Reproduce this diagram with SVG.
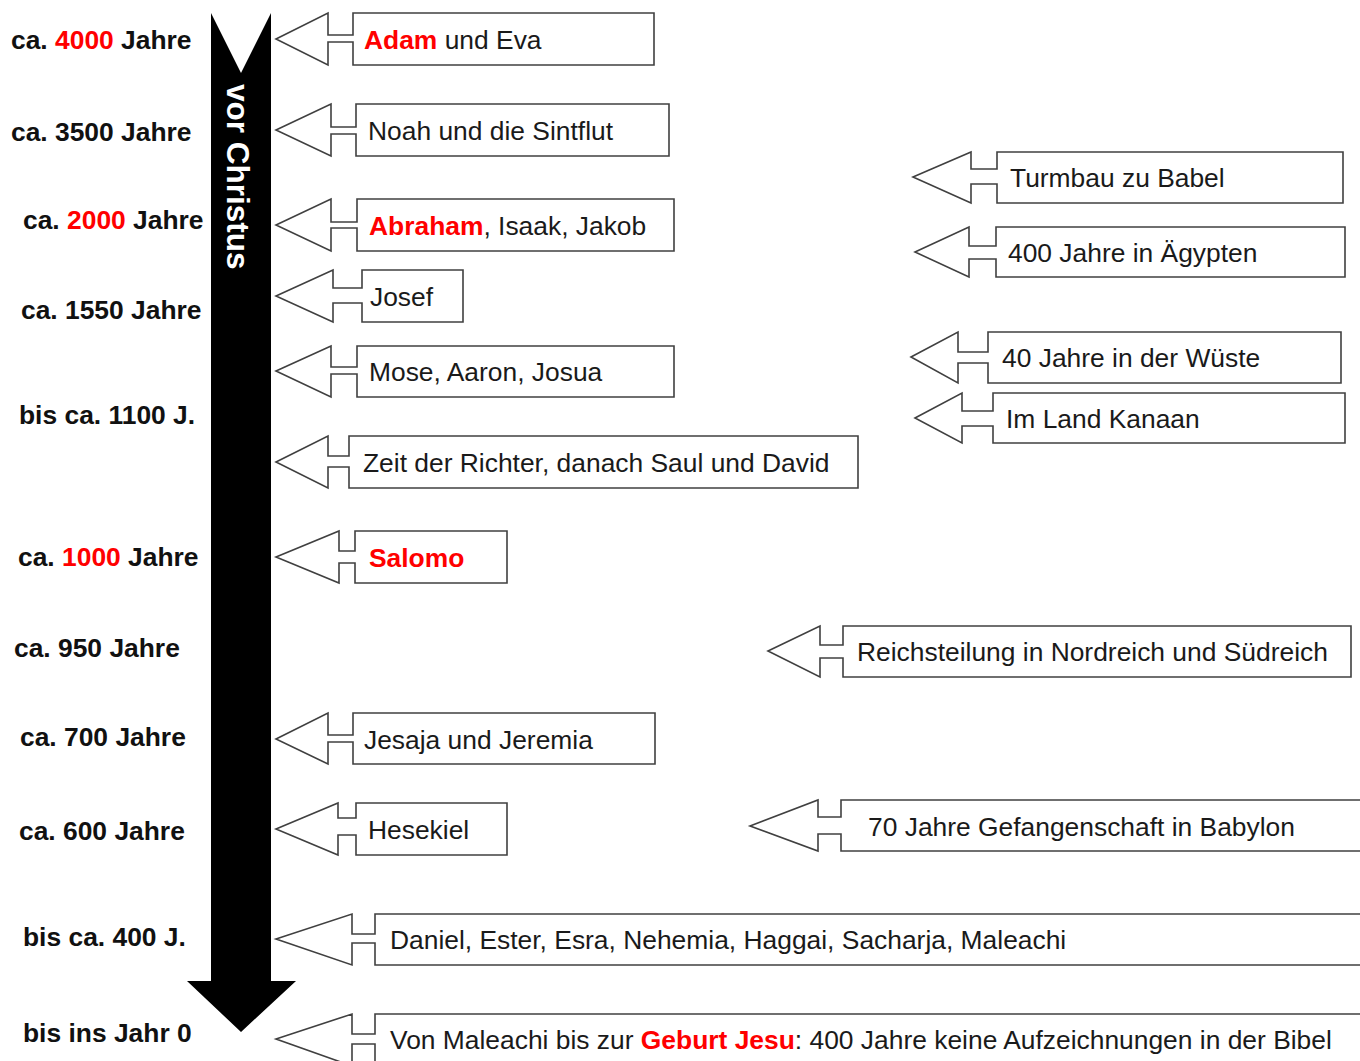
<svg xmlns="http://www.w3.org/2000/svg" width="1360" height="1061" viewBox="0 0 1360 1061">
<style>
.co{fill:#fff;stroke:#404040;stroke-width:1.6;stroke-linejoin:miter}
.t{font-family:"Liberation Sans",Arial,sans-serif;font-size:26.4px;fill:#1a1a1a}
.l{font-family:"Liberation Sans",Arial,sans-serif;font-size:26.4px;font-weight:bold;fill:#111}
.r{fill:#ff0000}
.b{font-weight:bold}
</style>
<rect width="1360" height="1061" fill="#fff"/>
<g id="timeline">
<path d="M211,13 L241,73 L271,13 L271,981 L296,981 L241,1032 L187,981 L211,981 Z" fill="#000"/>
<text transform="translate(227,84) rotate(90)" font-family="Liberation Sans,Arial,sans-serif" font-size="31.5" font-weight="bold" fill="#fff">vor Christus</text>
</g>
<g id="labels">
<text class="l" x="11" y="49">ca. <tspan class="r">4000</tspan> Jahre</text>
<text class="l" x="11" y="141">ca. 3500 Jahre</text>
<text class="l" x="23" y="229">ca. <tspan class="r">2000</tspan> Jahre</text>
<text class="l" x="21" y="319">ca. 1550 Jahre</text>
<text class="l" x="19" y="424">bis ca. 1100 J.</text>
<text class="l" x="18" y="566">ca. <tspan class="r">1000</tspan> Jahre</text>
<text class="l" x="14" y="657">ca. 950 Jahre</text>
<text class="l" x="20" y="746">ca. 700 Jahre</text>
<text class="l" x="19" y="840">ca. 600 Jahre</text>
<text class="l" x="23" y="946">bis ca. 400 J.</text>
<text class="l" x="23" y="1042">bis ins Jahr 0</text>
</g>
<g id="connectors"></g>
<g id="adam">
<path class="co" d="M276,39 L328,13 L328,35 L353,35 L353,13 L654,13 L654,65 L353,65 L353,42 L328,42 L328,65 Z"/>
<text class="t" x="364" y="49"><tspan class="r b">Adam</tspan> und Eva</text>
</g>
<g id="noah">
<path class="co" d="M276,130 L331,104 L331,127 L356,127 L356,104 L669,104 L669,156 L356,156 L356,134 L331,134 L331,156 Z"/>
<text class="t" x="368" y="140">Noah und die Sintflut</text>
</g>
<g id="abraham">
<path class="co" d="M276,225 L331,199 L331,222 L357,222 L357,199 L674,199 L674,251 L357,251 L357,228 L331,228 L331,251 Z"/>
<text class="t" x="369" y="235"><tspan class="r b">Abraham</tspan>, Isaak, Jakob</text>
</g>
<g id="josef">
<path class="co" d="M276,296 L333,270 L333,288 L362,288 L362,270 L463,270 L463,322 L362,322 L362,303 L333,303 L333,322 Z"/>
<text class="t" x="370" y="306">Josef</text>
</g>
<g id="mose">
<path class="co" d="M276,371 L331,346 L331,367 L357,367 L357,346 L674,346 L674,397 L357,397 L357,374 L331,374 L331,397 Z"/>
<text class="t" x="369" y="381">Mose, Aaron, Josua</text>
</g>
<g id="richter">
<path class="co" d="M276,462 L328,436 L328,456 L349,456 L349,436 L858,436 L858,488 L349,488 L349,467 L328,467 L328,488 Z"/>
<text class="t" x="363" y="472">Zeit der Richter, danach Saul und David</text>
</g>
<g id="salomo">
<path class="co" d="M276,557 L339,531 L339,551 L355,551 L355,531 L507,531 L507,583 L355,583 L355,563 L339,563 L339,583 Z"/>
<text class="t b r" x="369" y="567">Salomo</text>
</g>
<g id="jesaja">
<path class="co" d="M276,739 L328,713 L328,735 L353,735 L353,713 L655,713 L655,764 L353,764 L353,742 L328,742 L328,764 Z"/>
<text class="t" x="364" y="749">Jesaja und Jeremia</text>
</g>
<g id="hesekiel">
<path class="co" d="M276,829 L338,803 L338,818 L356,818 L356,803 L507,803 L507,855 L356,855 L356,835 L338,835 L338,855 Z"/>
<text class="t" x="368" y="839">Hesekiel</text>
</g>
<g id="daniel">
<path class="co" d="M276,939 L352,914 L352,934 L375,934 L375,914 L1370,914 L1370,965 L375,965 L375,943 L352,943 L352,965 Z"/>
<text class="t" x="390" y="949">Daniel, Ester, Esra, Nehemia, Haggai, Sacharja, Maleachi</text>
</g>
<g id="maleachi">
<path class="co" d="M276,1039 L352,1014 L352,1034 L375,1034 L375,1014 L1370,1014 L1370,1066 L375,1066 L375,1044 L352,1044 L352,1066 Z"/>
<text class="t" x="390" y="1049">Von Maleachi bis zur <tspan class="r b">Geburt Jesu</tspan>: 400 Jahre keine Aufzeichnungen in der Bibel</text>
</g>
<g id="turmbau">
<path class="co" d="M913,177 L971,152 L971,169 L997,169 L997,152 L1343,152 L1343,203 L997,203 L997,184 L971,184 L971,203 Z"/>
<text class="t" x="1010" y="187">Turmbau zu Babel</text>
</g>
<g id="aegypten">
<path class="co" d="M915,252 L969,227 L969,246 L996,246 L996,227 L1345,227 L1345,277 L996,277 L996,259 L969,259 L969,277 Z"/>
<text class="t" x="1008" y="262">400 Jahre in Ägypten</text>
</g>
<g id="wueste">
<path class="co" d="M911,357 L958,332 L958,352 L988,352 L988,332 L1341,332 L1341,383 L988,383 L988,363 L958,363 L958,383 Z"/>
<text class="t" x="1002" y="367">40 Jahre in der Wüste</text>
</g>
<g id="kanaan">
<path class="co" d="M915,418 L962,393 L962,411 L993,411 L993,393 L1345,393 L1345,443 L993,443 L993,426 L962,426 L962,443 Z"/>
<text class="t" x="1006" y="428">Im Land Kanaan</text>
</g>
<g id="reichsteilung">
<path class="co" d="M768,651 L820,626 L820,645 L843,645 L843,626 L1351,626 L1351,677 L843,677 L843,658 L820,658 L820,677 Z"/>
<text class="t" x="857" y="661">Reichsteilung in Nordreich und Südreich</text>
</g>
<g id="babylon">
<path class="co" d="M750,826 L818,800 L818,817 L841,817 L841,800 L1370,800 L1370,851 L841,851 L841,834 L818,834 L818,851 Z"/>
<text class="t" x="868" y="836">70 Jahre Gefangenschaft in Babylon</text>
</g>
</svg>
